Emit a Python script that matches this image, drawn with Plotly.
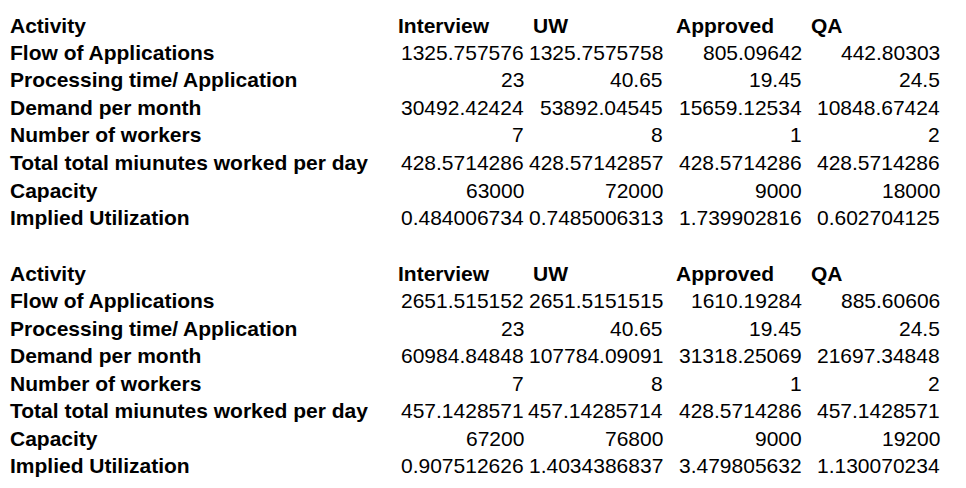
import plotly.graph_objects as go

W, H = 966, 488
row_labels = ["Activity", "Flow of Applications", "Processing time/ Application", "Demand per month",
              "Number of workers", "Total total miunutes worked per day", "Capacity", "Implied Utilization"]
headers = ["Interview", "UW", "Approved", "QA"]
block1 = [
    ["1325.757576", "1325.7575758", "805.09642", "442.80303"],
    ["23", "40.65", "19.45", "24.5"],
    ["30492.42424", "53892.04545", "15659.12534", "10848.67424"],
    ["7", "8", "1", "2"],
    ["428.5714286", "428.57142857", "428.5714286", "428.5714286"],
    ["63000", "72000", "9000", "18000"],
    ["0.484006734", "0.7485006313", "1.739902816", "0.602704125"],
]
block2 = [
    ["2651.515152", "2651.5151515", "1610.19284", "885.60606"],
    ["23", "40.65", "19.45", "24.5"],
    ["60984.84848", "107784.09091", "31318.25069", "21697.34848"],
    ["7", "8", "1", "2"],
    ["457.1428571", "457.14285714", "428.5714286", "457.1428571"],
    ["67200", "76800", "9000", "19200"],
    ["0.907512626", "1.4034386837", "3.479805632", "1.130070234"],
]

header_x = [388, 523, 666, 801]
value_right = [518, 657, 796, 934]
FONT = "Liberation Sans, Arial, sans-serif"
ann = []

def add(x, y, text, anchor, bold):
    ann.append(dict(x=x / W, y=1 - y / H, xref="paper", yref="paper", text=f"<b>{text}</b>" if bold else text,
                    showarrow=False, xanchor=anchor, yanchor="middle",
                    font=dict(family=FONT, size=21, color="black")))

for top, block in [(17, block1), (265, block2)]:
    for i, lab in enumerate(row_labels):
        y = top + i * 27.5
        add(0, y, lab, "left", True)
        if i == 0:
            for hx, h in zip(header_x, headers):
                add(hx, y, h, "left", True)
        else:
            for vx, v in zip(value_right, block[i - 1]):
                add(vx, y, v, "right", False)

fig = go.Figure()
fig.update_layout(width=W, height=H, margin=dict(l=0, r=0, t=0, b=0),
                  paper_bgcolor="white", plot_bgcolor="white",
                  xaxis=dict(visible=False), yaxis=dict(visible=False), annotations=ann)
fig.write_html("out.html")
